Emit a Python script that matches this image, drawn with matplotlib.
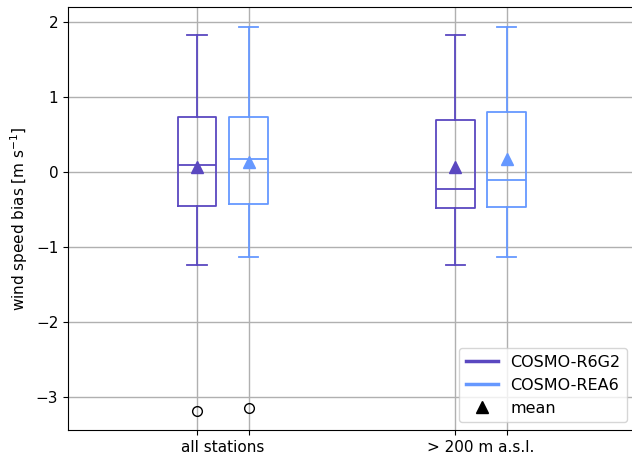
import matplotlib
matplotlib.use("Agg")
import matplotlib.pyplot as plt
from matplotlib.lines import Line2D

categories = ["all stations", "> 200 m a.s.l."]
models = ["COSMO-R6G2", "COSMO-REA6"]
colors = ["#5a48c0", "#6698ff"]

# per model: values for each category
whislo = {"COSMO-R6G2": [-1.24, -1.24], "COSMO-REA6": [-1.13, -1.13]}
q1     = {"COSMO-R6G2": [-0.45, -0.48], "COSMO-REA6": [-0.42, -0.47]}
med    = {"COSMO-R6G2": [0.10, -0.22],  "COSMO-REA6": [0.17, -0.10]}
q3     = {"COSMO-R6G2": [0.73, 0.70],   "COSMO-REA6": [0.73, 0.80]}
whishi = {"COSMO-R6G2": [1.83, 1.83],   "COSMO-REA6": [1.94, 1.94]}
mean   = {"COSMO-R6G2": [0.07, 0.07],   "COSMO-REA6": [0.14, 0.17]}
fliers = {"COSMO-R6G2": [[-3.19], []],  "COSMO-REA6": [[-3.15], []]}

fig = plt.figure(figsize=(6.32, 4.58), dpi=100)
ax = fig.add_axes([68/632, (458-430)/458, (632-68)/632, (430-7)/458])

offsets = [-0.1, 0.1]
tick_pos = []
for m, off, c in zip(models, offsets, colors):
    stats = []
    pos = []
    for i in range(len(categories)):
        stats.append(dict(whislo=whislo[m][i], q1=q1[m][i], med=med[m][i],
                          q3=q3[m][i], whishi=whishi[m][i], mean=mean[m][i],
                          fliers=fliers[m][i]))
        pos.append(i + off)
        tick_pos.append(i + off)
    ax.bxp(stats, positions=pos, widths=0.15, showmeans=True,
           boxprops=dict(color=c, linewidth=1.3),
           whiskerprops=dict(color=c, linewidth=1.3),
           capprops=dict(color=c, linewidth=1.3),
           medianprops=dict(color=c, linewidth=1.3),
           meanprops=dict(marker="^", markerfacecolor=c, markeredgecolor=c, markersize=8),
           flierprops=dict(marker="o", markerfacecolor="none", markeredgecolor="black", markersize=7),
           manage_ticks=False)

tick_pos = sorted(tick_pos)
ax.set_xticks(tick_pos)
ax.set_xticklabels(["", "", "", ""])
for i, cat in enumerate(categories):
    ax.text(i, -0.024, cat, transform=ax.get_xaxis_transform(), ha="center", va="top", fontsize=11)
ax.set_xlim(-0.6, 1.585)
ax.set_ylim(-3.44, 2.2)
ax.set_yticks([-3, -2, -1, 0, 1, 2])
ax.tick_params(labelsize=11)
ax.grid(True, color="#b0b0b0", linewidth=1)
ax.set_axisbelow(True)
ax.spines["right"].set_visible(False)
ax.set_ylabel("wind speed bias [m s$^{-1}$]", fontsize=11)

handles = [Line2D([0], [0], color=colors[0], lw=2.5),
           Line2D([0], [0], color=colors[1], lw=2.5),
           Line2D([0], [0], marker="^", color="black", lw=0, markersize=8)]
ax.legend(handles, models + ["mean"], loc="lower right", fontsize=11.5,
          bbox_to_anchor=(1.005, 0.0))

fig.savefig("out.png", dpi=100)
